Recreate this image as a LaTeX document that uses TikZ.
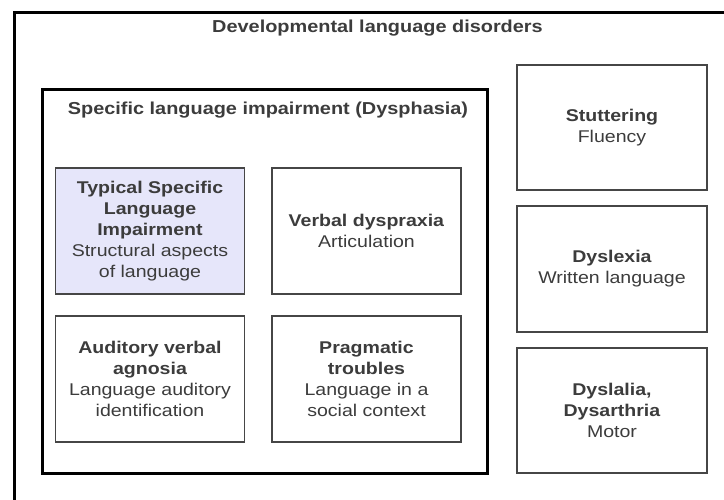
\documentclass[tikz,border=0pt]{standalone}
\usepackage{fontspec}
\setmainfont{Liberation Sans}[FakeStretch=1.15]
\usepackage{tikz}
\usetikzlibrary{positioning}

\definecolor{inkgray}{RGB}{60,60,60}
\definecolor{linegray}{RGB}{70,70,70}
\definecolor{lavfill}{RGB}{230,230,250}

\tikzset{
  cell/.style={draw=linegray,line width=1.1pt,fill=white,rectangle,
    minimum width=\cellw pt,minimum height=\cellh pt,inner sep=0pt,
    align=center,text=inkgray,font=\fontsize{17}{21}\selectfont},
  frame/.style={draw=black,line width=3pt},
  heading/.style={text=inkgray,font=\fontsize{17.3}{21}\selectfont\bfseries,inner sep=0pt}
}

\begin{document}
\begin{tikzpicture}[x=1pt,y=-1pt]
        % taille des cases
        \newcommand{\cellw}{189}
        \newcommand{\cellh}{126}

        \useasboundingbox (0,0) rectangle (724,499);
        \clip (0,0) rectangle (724,499);
        \fill[white] (0,0) rectangle (724,499);

        % cadres
        \draw[frame] (14,12) rectangle (745,520);
        \draw[frame] (42,89) rectangle (487,473);

        % titres
        \node[heading] (dld) at (377.5,28) {Developmental language disorders};
        \node[heading] (sli) at (268,110) {Specific language impairment (Dysphasia)};

        % cases du trouble specifique
        \node[cell,fill=lavfill] (tsli) at (150,231)
          {\textbf{Typical Specific}\\\textbf{Language}\\\textbf{Impairment}\\Structural aspects\\of language};
        \node[cell] (dyspraxia) at (366.5,231)
          {\textbf{Verbal dyspraxia}\\Articulation};
        \node[cell] (agnosia) at (150,379)
          {\textbf{Auditory verbal}\\\textbf{agnosia}\\Language auditory\\identification};
        \node[cell] (pragmatic) at (366.5,379)
          {\textbf{Pragmatic}\\\textbf{troubles}\\Language in a\\social context};

        % autres troubles
        \node[cell,minimum width=190pt,minimum height=125pt] (stutter) at (612,127.5)
          {\textbf{Stuttering}\\Fluency};
        \node[cell,minimum width=190pt] (dyslexia) at (612,269)
          {\textbf{Dyslexia}\\Written language};
        \node[cell,minimum width=190pt,minimum height=125pt] (dyslalia) at (612,410.5)
          {\textbf{Dyslalia,}\\\textbf{Dysarthria}\\Motor};
\end{tikzpicture}
\end{document}
